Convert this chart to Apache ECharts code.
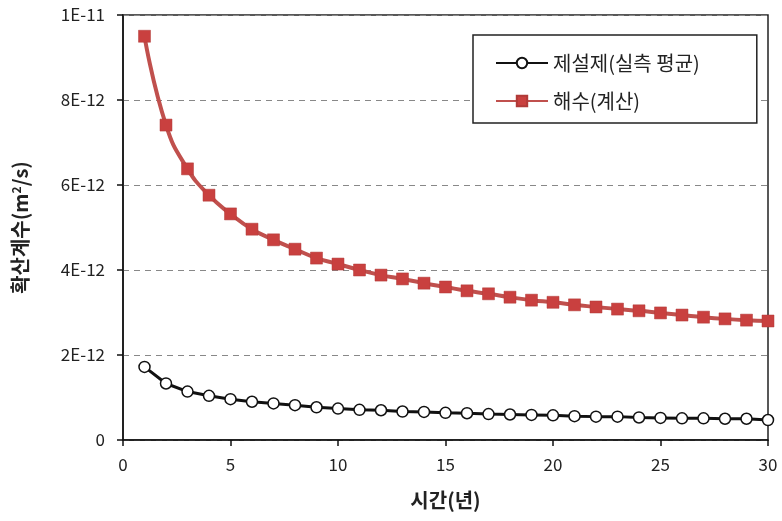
<!DOCTYPE html>
<html>
<head>
<meta charset="utf-8">
<script src="https://cdn.jsdelivr.net/npm/echarts@6/dist/echarts.min.js"></script>
<style>
  html, body { margin: 0; padding: 0; background: #fff; }
  #chart { width: 782px; height: 521px; }
</style>
</head>
<body>
<div id="chart"></div>
<script>
// 시간(년)
const years = [1, 2, 3, 4, 5, 6, 7, 8, 9, 10, 11, 12, 13, 14, 15,
  16, 17, 18, 19, 20, 21, 22, 23, 24, 25, 26, 27, 28, 29, 30];

// 제설제(실측 평균), m2/s
const deicer = [1.72e-12, 1.33e-12, 1.14e-12, 1.04e-12, 0.96e-12, 0.90e-12, 0.86e-12, 0.82e-12, 0.77e-12, 0.74e-12,
  0.71e-12, 0.70e-12, 0.67e-12, 0.66e-12, 0.64e-12, 0.63e-12, 0.61e-12, 0.60e-12, 0.59e-12, 0.58e-12,
  0.56e-12, 0.55e-12, 0.55e-12, 0.53e-12, 0.52e-12, 0.51e-12, 0.51e-12, 0.50e-12, 0.50e-12, 0.47e-12];

// 해수(계산), m2/s
const seawater = [9.50e-12, 7.41e-12, 6.38e-12, 5.76e-12, 5.32e-12, 4.96e-12, 4.71e-12, 4.49e-12, 4.28e-12, 4.14e-12,
  4.00e-12, 3.88e-12, 3.79e-12, 3.69e-12, 3.60e-12, 3.51e-12, 3.44e-12, 3.36e-12, 3.29e-12, 3.24e-12,
  3.18e-12, 3.13e-12, 3.08e-12, 3.04e-12, 2.99e-12, 2.94e-12, 2.89e-12, 2.85e-12, 2.82e-12, 2.80e-12];

const font = '"Noto Sans CJK KR", "Noto Sans", sans-serif';

const chart = echarts.init(document.getElementById('chart'));

const option = {
  animation: false,
  textStyle: { fontFamily: font },
  grid: {
    left: 123, right: 14, top: 15, bottom: 81,
    outerBoundsMode: 'none',
    containLabel: false,
    show: true,
    borderColor: '#222',
    borderWidth: 1.5,
    backgroundColor: 'transparent'
  },
  legend: {
    orient: 'vertical',
    left: 473,
    top: 35,
    padding: [18, 57, 12, 22],
    itemGap: 18,
    itemWidth: 52,
    itemHeight: 13,
    borderColor: '#222',
    borderWidth: 1.5,
    backgroundColor: '#fff',
    textStyle: { fontSize: 20, color: '#222', fontFamily: font },
    data: ['제설제(실측 평균)', '해수(계산)']
  },
  xAxis: {
    type: 'value',
    min: 0,
    max: 30,
    interval: 5,
    name: '시간(년)',
    nameLocation: 'middle',
    nameGap: 50,
    nameTextStyle: { fontSize: 20, fontWeight: 'bold', color: '#222' },
    axisLine: { lineStyle: { color: '#111', width: 1.5 } },
    axisTick: { show: true, length: 6, lineStyle: { color: '#111', width: 1.5 } },
    axisLabel: { fontSize: 17, color: '#222', margin: 16 },
    splitLine: { show: false }
  },
  yAxis: {
    type: 'value',
    min: 0,
    max: 1e-11,
    interval: 2e-12,
    name: '{b|확산계수(m}{sup|2}{b|/s)}',
    nameLocation: 'middle',
    nameGap: 92,
    nameTextStyle: {
      rich: {
        b: { fontSize: 20, fontWeight: 'bold', color: '#222', fontFamily: font },
        sup: { fontSize: 12, fontWeight: 'bold', color: '#222', verticalAlign: 'top', padding: [0, 0, 9, 0], fontFamily: font }
      }
    },
    axisLine: { show: true, lineStyle: { color: '#111', width: 1.5 } },
    axisTick: { show: true, length: 6, lineStyle: { color: '#111', width: 1.5 } },
    axisLabel: {
      fontSize: 17,
      color: '#222',
      margin: 18,
      formatter: function (v) {
        if (v === 0) return '0';
        return v.toExponential(0).toUpperCase();
      }
    },
    splitLine: {
      show: true,
      lineStyle: { color: '#888', type: [6, 5], width: 1 }
    }
  },
  series: [
    {
      name: '제설제(실측 평균)',
      type: 'line',
      data: years.map((x, i) => [x, deicer[i]]),
      symbol: 'circle',
      symbolSize: 11,
      lineStyle: { color: '#111', width: 3 },
      itemStyle: { color: '#fff', borderColor: '#111', borderWidth: 1.5 },
      z: 3
    },
    {
      name: '해수(계산)',
      type: 'line',
      smooth: true,
      data: years.map((x, i) => [x, seawater[i]]),
      symbol: 'rect',
      symbolSize: 12,
      lineStyle: { color: '#c0504d', width: 4 },
      itemStyle: { color: '#c9403f', borderColor: '#b03a38', borderWidth: 0.5 },
      z: 4
    }
  ]
};

chart.setOption(option);
</script>
</body>
</html>
